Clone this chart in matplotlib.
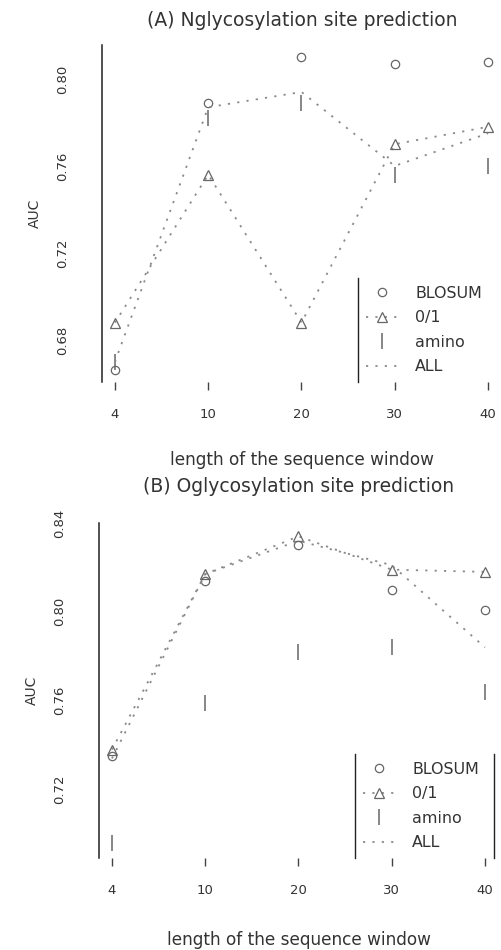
import matplotlib
matplotlib.use("Agg")
import matplotlib.pyplot as plt
from matplotlib.lines import Line2D
import numpy as np

# ---------------- data ----------------
window = ["4", "10", "20", "30", "40"]

a_title = "(A) Nglycosylation site prediction"
a_blosum = [0.666, 0.789, 0.810, 0.807, 0.808]
a_zero_one = [0.688, 0.756, 0.688, 0.770, 0.778]
a_amino = [0.670, 0.782, 0.789, 0.756, 0.760]
a_all = [0.670, 0.787, 0.794, 0.760, 0.775]
a_yticks = [0.68, 0.72, 0.76, 0.80]

b_title = "(B) Oglycosylation site prediction"
b_blosum = [0.735, 0.814, 0.830, 0.810, 0.801]
b_zero_one = [0.738, 0.817, 0.834, 0.819, 0.818]
b_amino = [0.696, 0.759, 0.782, 0.784, 0.764]
b_all = [0.734, 0.817, 0.832, 0.821, 0.784]
b_yticks = [0.72, 0.76, 0.80, 0.84]

series_names = ["BLOSUM", "0/1", "amino", "ALL"]

# ---------------- style ----------------
W, H = 502, 950
DPI = 100
TXT = "#333333"
MK = "#666666"
LN = "#8a8a8a"
DOT = (0, (1.2, 4.0))
plt.rcParams["font.family"] = ["DejaVu Sans"]

fig = plt.figure(figsize=(W / DPI, H / DPI), dpi=DPI)
fig.patch.set_facecolor("white")


def px_axes(left, top, right, bottom):
    return fig.add_axes([left / W, 1 - bottom / H, (right - left) / W, (bottom - top) / H])


def draw_panel(ax, title, blosum, zero_one, amino, allv, yticks, ylim, title_y, xlabel_y):
    x = np.arange(1, len(window) + 1)
    ax.plot(x, blosum, linestyle="none", marker="o", markersize=6, markerfacecolor="none",
            markeredgecolor=MK, markeredgewidth=0.9)
    ax.plot(x, zero_one, linestyle=DOT, color=LN, linewidth=1.3, marker="^", markersize=7,
            markerfacecolor="none", markeredgecolor=MK, markeredgewidth=0.9)
    ax.plot(x, amino, linestyle="none", marker="|", markersize=11, markeredgecolor=MK,
            markeredgewidth=1.1)
    ax.plot(x, allv, linestyle=DOT, color=LN, linewidth=1.3)

    ax.set_xlim(0.861, 5.15)
    ax.set_ylim(*ylim)
    ax.set_xticks(x)
    ax.set_xticklabels(window)
    ax.set_yticks(yticks)
    ax.set_yticklabels([f"{v:.2f}" for v in yticks], rotation=90, va="center")
    for s in ["top", "right", "bottom"]:
        ax.spines[s].set_visible(False)
    ax.spines["left"].set_color("#222222")
    ax.spines["left"].set_linewidth(1.1)
    ax.tick_params(axis="x", direction="out", length=6, width=1.0, color="#444444",
                   pad=13, labelsize=9.5, labelcolor=TXT)
    ax.tick_params(axis="y", length=0, pad=24, labelsize=9.5, labelcolor=TXT)
    ax.set_ylabel("AUC", fontsize=10, color=TXT)
    ax.yaxis.set_label_coords(-0.15, 0.5)
    ax.set_facecolor("white")

    bb = ax.get_position()
    cx = (bb.x0 + bb.x1) / 2
    fig.text(cx, 1 - title_y / H, title, ha="center", va="center", fontsize=13.5, color=TXT)
    fig.text(cx, 1 - xlabel_y / H, "length of the sequence window", ha="center", va="center",
             fontsize=12.2, color=TXT)

    handles = [
        Line2D([], [], linestyle="none", marker="o", markersize=6, markerfacecolor="none",
               markeredgecolor=MK, markeredgewidth=0.9),
        Line2D([], [], linestyle=DOT, color=LN, linewidth=1.3, marker="^", markersize=7,
               markerfacecolor="none", markeredgecolor=MK, markeredgewidth=0.9),
        Line2D([], [], linestyle="none", marker="|", markersize=11, markeredgecolor=MK,
               markeredgewidth=1.1),
        Line2D([], [], linestyle=DOT, color=LN, linewidth=1.3),
    ]
    leg = ax.legend(handles, series_names, loc="lower right", bbox_to_anchor=(0.97, 0.0),
                    frameon=False, fontsize=11.4, handlelength=2.0, handletextpad=1.1,
                    labelspacing=0.6, borderpad=0.5, borderaxespad=0.0)
    for t in leg.get_texts():
        t.set_color(TXT)
    return leg


ax_a = px_axes(102, 45, 502, 382)
leg_a = draw_panel(ax_a, a_title, a_blosum, a_zero_one, a_amino, a_all, a_yticks,
                   (0.6607, 0.8156), 20, 460)

ax_b = px_axes(99, 523, 499, 858)
leg_b = draw_panel(ax_b, b_title, b_blosum, b_zero_one, b_amino, b_all, b_yticks,
                   (0.6892, 0.8365), 487, 940)

# legend borders: only the vertical sides survive in the reference scan
fig.canvas.draw()
inv = fig.transFigure.inverted()
for leg, sides in ((leg_a, ("left",)), (leg_b, ("left", "right"))):
    bb = leg.get_window_extent()
    (x0, y0), (x1, y1) = inv.transform([(bb.x0, bb.y0), (bb.x1 + 7, bb.y1)])
    for s in sides:
        xx = x0 if s == "left" else x1
        fig.add_artist(Line2D([xx, xx], [y0, y1], transform=fig.transFigure,
                              color="#222222", linewidth=1.0))

fig.savefig("out.png", dpi=DPI, facecolor="white")
